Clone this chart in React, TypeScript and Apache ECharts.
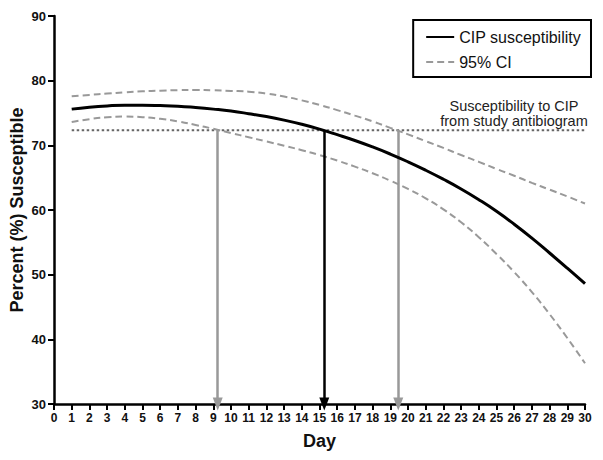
import React, { useEffect, useRef } from "react";
import * as echarts from "echarts";

const days = [1,2,3,4,5,6,7,8,9,10,11,12,13,14,15,16,17,18,19,20,21,22,23,24,25,26,27,28,29,30];
const cipSusceptibility = [75.6,75.9,76.1,76.2,76.2,76.15,76.05,75.85,75.6,75.3,74.9,74.45,73.9,73.25,72.5,71.65,70.75,69.75,68.65,67.45,66.15,64.75,63.25,61.6,59.8,57.8,55.65,53.35,51.0,48.6];
const ciUpper = [77.6,77.8,78.0,78.2,78.35,78.45,78.53,78.55,78.52,78.42,78.3,78.0,77.55,76.95,76.25,75.45,74.6,73.7,72.7,71.7,70.65,69.6,68.5,67.45,66.35,65.3,64.2,63.15,62.1,61.0];
const ciLower = [73.6,74.05,74.35,74.45,74.35,74.1,73.7,73.15,72.55,71.9,71.25,70.6,69.95,69.25,68.5,67.65,66.71,65.68,64.54,63.26,61.81,60.1,58.1,55.8,53.2,50.4,47.3,43.9,40.2,36.3];
const antibiogramLevel = 72.35;
const refLineDays = [1, 30];
const arrowDays = [9.25, 15.27, 19.45];
const arrowKinds = ["ci", "main", "ci"];
const yTicks = { min: 30, max: 90, interval: 10 };
const xTicks = { min: 0, max: 30, interval: 1 };

const FONT = "Liberation Sans, Arial, Helvetica, sans-serif";

export default function App() {
  const ref = useRef<HTMLDivElement>(null);
  useEffect(() => {
    if (!ref.current) return;
    const chart = echarts.init(ref.current, null, { renderer: "svg" });
    const pair = (vals: number[]) => days.map((d, i) => [d, vals[i]]);
    const option: any = {
      animation: false,
      backgroundColor: "#fff",
      textStyle: { fontFamily: FONT },
      grid: { left: 54, right: 18, top: 16, bottom: 56, containLabel: false, outerBoundsMode: "none" },
      legend: {
        data: ["CIP susceptibility", "95% CI"],
        orient: "vertical",
        right: 12,
        top: 20,
        padding: [9, 10, 7, 12],
        itemGap: 9,
        itemWidth: 28,
        itemHeight: 14,
        borderColor: "#000",
        borderWidth: 2,
        itemStyle: { color: "transparent", borderColor: "transparent", borderWidth: 0, opacity: 0 },
        textStyle: { fontSize: 16, color: "#111", fontFamily: FONT },
        selectedMode: false,
      },
      xAxis: {
        type: "value",
        min: xTicks.min,
        max: xTicks.max,
        interval: xTicks.interval,
        name: "Day",
        nameLocation: "middle",
        nameGap: 28,
        nameMoveOverlap: false,
        nameTextStyle: { fontSize: 18, fontWeight: "bold", color: "#111", fontFamily: FONT },
        axisLine: { show: true, lineStyle: { color: "#000", width: 2.5 } },
        axisTick: { show: true, inside: false, length: 6, lineStyle: { color: "#000", width: 2 } },
        axisLabel: { fontSize: 12, fontWeight: "bold", color: "#111", margin: 8, fontFamily: FONT },
        splitLine: { show: false },
      },
      yAxis: {
        type: "value",
        min: yTicks.min,
        max: yTicks.max,
        interval: yTicks.interval,
        name: "Percent (%) Susceptible",
        nameLocation: "middle",
        nameGap: 28,
        nameMoveOverlap: false,
        nameTextStyle: { fontSize: 18, fontWeight: "bold", color: "#111", fontFamily: FONT },
        axisLine: { show: true, lineStyle: { color: "#000", width: 2.5 } },
        axisTick: { show: true, inside: false, length: 6, lineStyle: { color: "#000", width: 2 } },
        axisLabel: { fontSize: 13, fontWeight: "bold", color: "#111", margin: 8, fontFamily: FONT },
        splitLine: { show: false },
      },
      series: [
        {
          name: "95% CI",
          type: "line",
          data: pair(ciUpper),
          smooth: true,
          showSymbol: false,
          symbol: "none",
          lineStyle: { color: "#999", width: 2, type: [7, 4] },
          itemStyle: { color: "#999" },
          silent: true,
        },
        {
          name: "95% CI",
          type: "line",
          data: pair(ciLower),
          smooth: true,
          showSymbol: false,
          symbol: "none",
          lineStyle: { color: "#999", width: 2, type: [7, 4] },
          itemStyle: { color: "#999" },
          silent: true,
        },
        {
          name: "Antibiogram",
          type: "line",
          data: refLineDays.map((d) => [d, antibiogramLevel]),
          showSymbol: false,
          symbol: "none",
          lineStyle: { color: "#666", width: 2, type: [2.5, 2.5] },
          silent: true,
          z: 1,
          markLine: {
            silent: true,
            symbol: ["none", "triangle"],
            symbolSize: [10, 13],
            label: { show: false },
            emphasis: { disabled: true },
            data: arrowDays.map((d, i) => {
              const color = arrowKinds[i] === "main" ? "#000" : "#999";
              return [
                { coord: [d, antibiogramLevel], lineStyle: { color, width: 2.5, type: "solid" }, itemStyle: { color } },
                { coord: [d, yTicks.min] },
              ];
            }),
          },
        },
        {
          name: "CIP susceptibility",
          type: "line",
          data: pair(cipSusceptibility),
          smooth: true,
          showSymbol: false,
          symbol: "none",
          lineStyle: { color: "#000", width: 3 },
          itemStyle: { color: "#000" },
          silent: true,
          z: 5,
        },
      ],
      graphic: [
        {
          type: "text",
          x: 514,
          y: 98,
          style: {
            text: "Susceptibility to CIP\nfrom study antibiogram",
            align: "center",
            verticalAlign: "top",
            font: `14.5px ${FONT}`,
            lineHeight: 15,
            fill: "#222",
          },
        },
      ],
    };
    chart.setOption(option);
    return () => chart.dispose();
  }, []);
  return <div ref={ref} style={{ width: 603, height: 460, position: "absolute", left: 0, top: 0 }} />;
}
